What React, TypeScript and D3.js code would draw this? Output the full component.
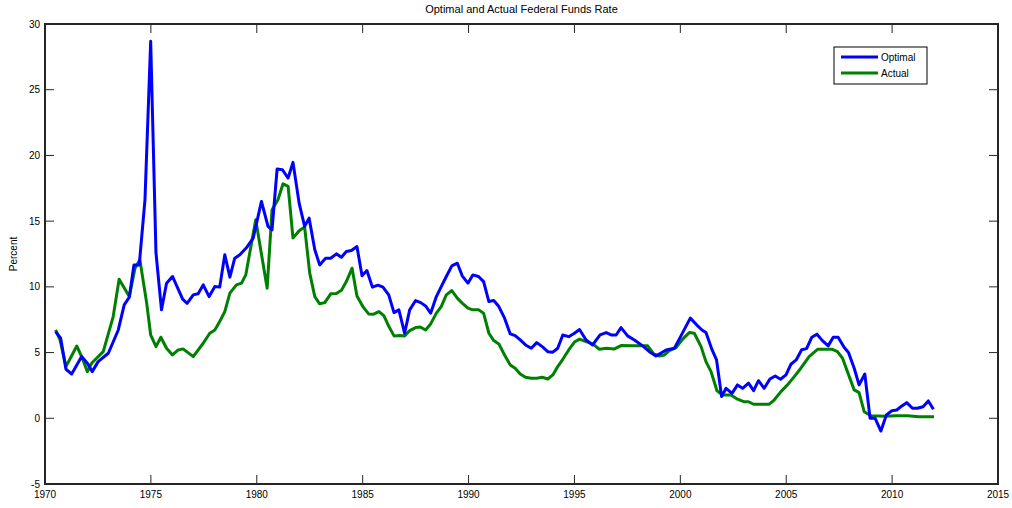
import React from "react";
import * as d3 from "d3";

const optimalYears = [1970.5,1970.74,1970.99,1971.26,1971.73,1972.0,1972.23,1972.51,1972.99,1973.46,1973.74,1973.98,1974.2,1974.45,1974.72,1974.99,1975.24,1975.5,1975.74,1976.02,1976.5,1976.71,1977.0,1977.23,1977.47,1977.75,1978.02,1978.25,1978.49,1978.73,1978.96,1979.2,1979.51,1979.83,1980.22,1980.53,1980.72,1980.96,1981.21,1981.48,1981.71,1982.0,1982.26,1982.47,1982.74,1982.97,1983.25,1983.49,1983.76,1984.0,1984.23,1984.47,1984.73,1984.97,1985.2,1985.46,1985.72,1985.96,1986.23,1986.48,1986.71,1986.98,1987.22,1987.5,1987.74,1987.97,1988.21,1988.48,1988.71,1988.95,1989.21,1989.47,1989.7,1989.97,1990.2,1990.47,1990.71,1990.96,1991.19,1991.43,1991.7,1991.97,1992.2,1992.44,1992.69,1992.96,1993.22,1993.48,1993.74,1993.98,1994.21,1994.45,1994.73,1995.0,1995.24,1995.55,1995.86,1996.21,1996.5,1996.73,1996.97,1997.2,1997.51,1997.83,1998.22,1998.54,1998.85,1999.33,1999.72,2000.03,2000.47,2000.77,2001.02,2001.21,2001.5,2001.71,2001.95,2002.16,2002.44,2002.7,2002.94,2003.22,2003.46,2003.69,2003.96,2004.23,2004.48,2004.73,2004.99,2005.22,2005.47,2005.73,2005.96,2006.21,2006.45,2006.71,2006.98,2007.22,2007.45,2007.74,2007.94,2008.21,2008.44,2008.71,2008.96,2009.2,2009.47,2009.73,2009.99,2010.22,2010.46,2010.69,2010.96,2011.19,2011.46,2011.71,2011.95];
const optimalValues = [6.6,6.09,3.73,3.37,4.7,4.19,3.55,4.31,4.95,6.72,8.63,9.21,11.67,11.67,16.6,28.68,12.6,8.25,10.28,10.79,9.06,8.75,9.39,9.47,10.15,9.26,10.02,9.98,12.44,10.74,12.18,12.44,12.97,13.7,16.5,14.6,14.34,18.96,18.91,18.28,19.47,16.37,14.6,15.23,12.82,11.67,12.18,12.18,12.51,12.26,12.69,12.77,13.07,10.84,11.24,9.98,10.13,9.98,9.39,8.04,8.25,6.47,8.25,8.96,8.8,8.55,8.0,9.26,10.02,10.79,11.6,11.8,10.84,10.28,10.91,10.79,10.4,8.88,8.96,8.5,7.62,6.42,6.29,5.96,5.58,5.33,5.76,5.45,5.07,5.03,5.33,6.34,6.21,6.47,6.75,5.96,5.58,6.34,6.52,6.34,6.34,6.9,6.27,5.96,5.51,5.07,4.74,5.2,5.33,6.27,7.62,7.11,6.72,6.52,5.2,4.44,1.65,2.28,1.9,2.54,2.28,2.67,2.1,2.86,2.28,2.99,3.22,2.97,3.3,4.11,4.44,5.22,5.3,6.17,6.4,5.91,5.51,6.17,6.17,5.38,5.0,3.81,2.54,3.37,0.0,0.0,-0.97,0.25,0.58,0.63,0.94,1.19,0.76,0.76,0.88,1.32,0.69];

const actualYears = [1970.5,1970.71,1970.99,1971.5,1971.73,1972.0,1972.2,1972.75,1973.22,1973.5,1973.98,1974.25,1974.48,1974.8,1974.99,1975.24,1975.47,1975.74,1976.02,1976.29,1976.52,1977.0,1977.47,1977.78,1978.02,1978.25,1978.49,1978.73,1979.04,1979.28,1979.48,1979.95,1980.49,1980.72,1981.0,1981.24,1981.48,1981.71,1982.0,1982.26,1982.5,1982.74,1982.97,1983.21,1983.49,1983.76,1984.0,1984.23,1984.5,1984.73,1985.01,1985.28,1985.52,1985.77,1986.0,1986.24,1986.48,1986.75,1986.98,1987.22,1987.5,1987.72,1987.97,1988.21,1988.48,1988.71,1988.95,1989.21,1989.47,1989.7,1989.97,1990.2,1990.47,1990.71,1990.96,1991.19,1991.43,1991.7,1991.97,1992.2,1992.44,1992.69,1992.96,1993.22,1993.48,1993.74,1993.98,1994.21,1994.45,1994.73,1995.0,1995.24,1995.55,1995.86,1996.18,1996.5,1996.89,1997.2,1997.75,1998.46,1998.74,1999.01,1999.25,1999.48,1999.8,2000.11,2000.42,2000.66,2000.98,2001.21,2001.45,2001.73,2002.0,2002.39,2002.7,2002.99,2003.22,2003.46,2004.2,2004.43,2004.75,2005.06,2005.38,2005.69,2006.08,2006.48,2007.18,2007.42,2007.66,2007.89,2008.21,2008.44,2008.68,2009.0,2009.7,2010.17,2010.72,2011.27,2011.98];
const actualValues = [6.72,5.97,3.93,5.5,4.7,3.55,4.19,5.07,7.74,10.58,9.26,11.42,12.06,8.78,6.34,5.45,6.17,5.33,4.82,5.2,5.28,4.69,5.71,6.47,6.72,7.36,8.12,9.52,10.15,10.28,10.91,15.1,9.9,15.86,16.63,17.84,17.64,13.71,14.27,14.55,11.04,9.26,8.71,8.8,9.47,9.5,9.75,10.4,11.42,9.31,8.5,7.94,7.92,8.12,7.81,6.98,6.27,6.29,6.27,6.67,6.9,6.95,6.72,7.18,8.0,8.5,9.39,9.72,9.14,8.76,8.38,8.25,8.25,8.0,6.47,5.91,5.66,4.82,4.06,3.81,3.37,3.12,3.05,3.05,3.12,2.99,3.3,3.93,4.49,5.2,5.8,6.02,5.83,5.66,5.25,5.33,5.28,5.53,5.51,5.51,4.9,4.74,4.82,5.15,5.38,6.02,6.52,6.47,5.45,4.31,3.55,2.1,1.77,1.77,1.45,1.26,1.26,1.07,1.07,1.39,2.03,2.54,3.17,3.81,4.69,5.25,5.25,5.07,4.57,3.55,2.16,1.95,0.5,0.2,0.15,0.2,0.2,0.12,0.12];

const xTicks = [1970, 1975, 1980, 1985, 1990, 1995, 2000, 2005, 2010, 2015];
const yTicks = [-5, 0, 5, 10, 15, 20, 25, 30];
const seriesNames = ["Optimal", "Actual"];
const seriesColors = ["#0000ff", "#008000"];
const titleText = "Optimal and Actual Federal Funds Rate";
const yLabel = "Percent";

const W = 1012, H = 508;
const L = 45, R = 998, T = 24, B = 484;
const FONT = "'Liberation Sans', Arial, sans-serif";

export default function App() {
  const x = d3.scaleLinear().domain([1970, 2015]).range([L, R]);
  const y = d3.scaleLinear().domain([-5, 30]).range([B, T]);
  const line = d3.line<[number, number]>().x(d => x(d[0])).y(d => y(d[1]));
  const opt = optimalYears.map((yr, i) => [yr, optimalValues[i]] as [number, number]);
  const act = actualYears.map((yr, i) => [yr, actualValues[i]] as [number, number]);
  const tl = 9;
  const axisColor = "#262626";
  return (
    <svg width={W} height={H} style={{ position: "absolute", left: 0, top: 0, background: "#fff" }}>
      <rect x={0} y={0} width={W} height={H} fill="#fff" />
      <text x={(L + R) / 2} y={13} textAnchor="middle" fontFamily={FONT} fontSize={11} fill="#000">{titleText}</text>
      <defs>
        <clipPath id="clip"><rect x={L} y={T} width={R - L} height={B - T} /></clipPath>
      </defs>
      <g clipPath="url(#clip)">
        <path d={line(act) || ""} fill="none" stroke={seriesColors[1]} strokeWidth={3} strokeLinejoin="round" />
        <path d={line(opt) || ""} fill="none" stroke={seriesColors[0]} strokeWidth={3} strokeLinejoin="round" />
      </g>
      {xTicks.map(t => (
        <g key={"x" + t}>
          <line x1={x(t)} x2={x(t)} y1={B} y2={B - tl} stroke={axisColor} strokeWidth={1} />
          <line x1={x(t)} x2={x(t)} y1={T} y2={T + tl} stroke={axisColor} strokeWidth={1} />
          <text x={x(t)} y={B + 14} textAnchor="middle" fontFamily={FONT} fontSize={10} fill="#000">{t}</text>
        </g>
      ))}
      {yTicks.map(t => (
        <g key={"y" + t}>
          <line x1={L} x2={L + tl} y1={y(t)} y2={y(t)} stroke={axisColor} strokeWidth={1} />
          <line x1={R} x2={R - tl} y1={y(t)} y2={y(t)} stroke={axisColor} strokeWidth={1} />
          <text x={L - 5} y={y(t) + 3.5} textAnchor="end" fontFamily={FONT} fontSize={10} fill="#000">{t}</text>
        </g>
      ))}
      <rect x={L} y={T} width={R - L} height={B - T} fill="none" stroke={axisColor} strokeWidth={2} />
      <text transform={`translate(17,${(T + B) / 2}) rotate(-90)`} textAnchor="middle" fontFamily={FONT} fontSize={10} fill="#000">{yLabel}</text>
      <g>
        <rect x={834} y={47} width={93} height={37} fill="#fff" stroke="#000" strokeWidth={1} />
        {seriesNames.map((n, i) => (
          <g key={n}>
            <line x1={841} x2={878} y1={57 + i * 16} y2={57 + i * 16} stroke={seriesColors[i]} strokeWidth={3} />
            <text x={881} y={60.5 + i * 16} fontFamily={FONT} fontSize={10} fill="#000">{n}</text>
          </g>
        ))}
      </g>
    </svg>
  );
}
